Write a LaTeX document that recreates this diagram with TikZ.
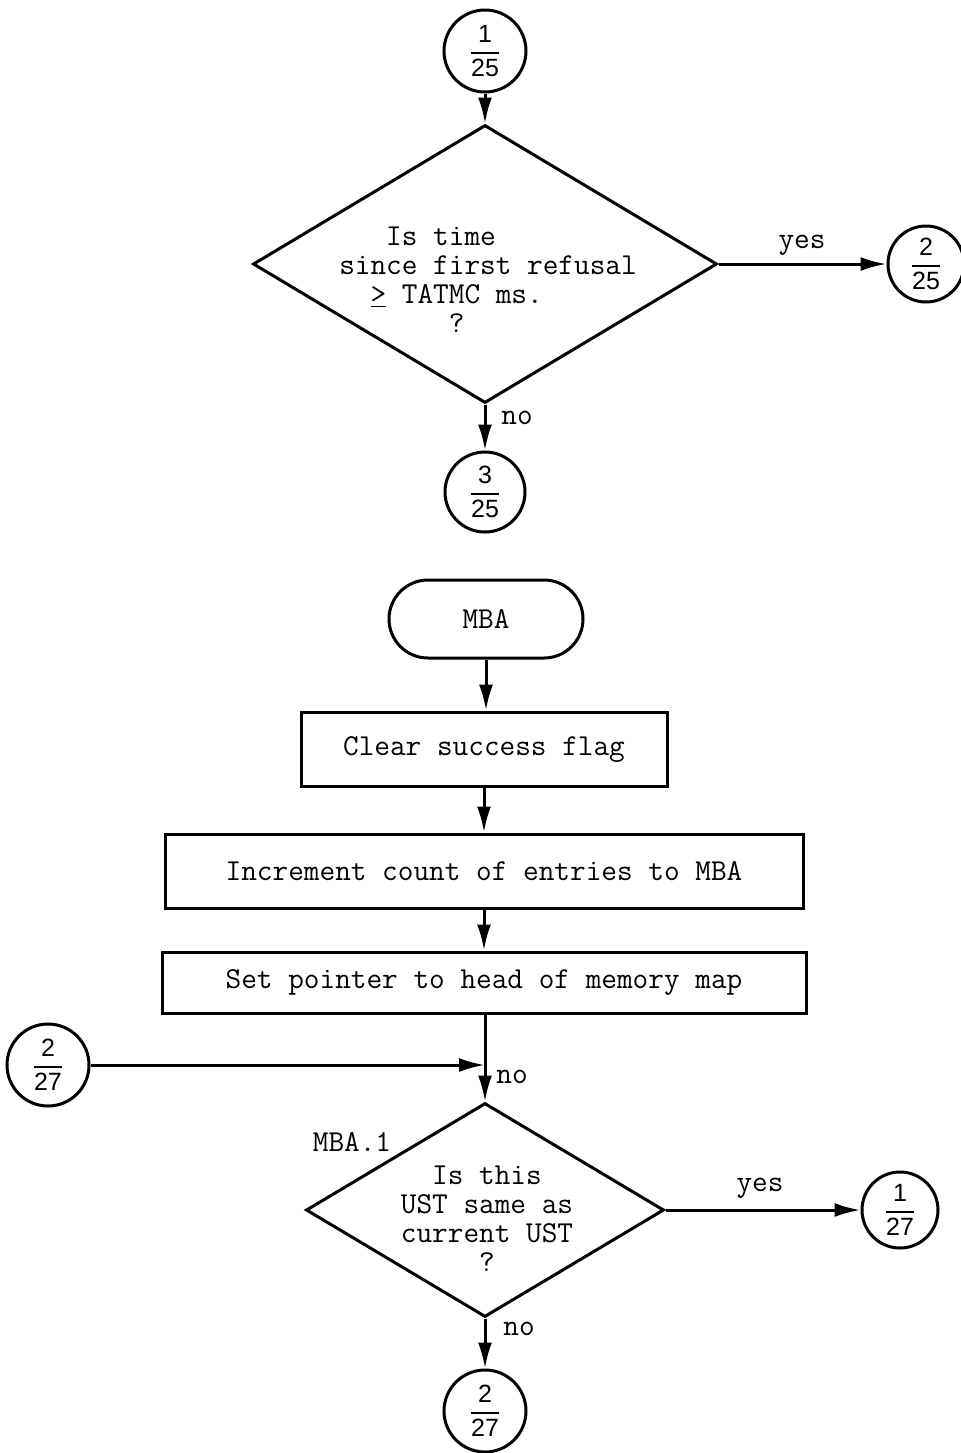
\documentclass[tikz,border=0pt]{standalone}
\usepackage{fontspec}
\setsansfont{Liberation Sans}
\usetikzlibrary{shapes.geometric,arrows.meta}

% page reference inside an off-page connector: number over a rule over page
\newcommand{\pgref}[2]{$\displaystyle{\hbox{#1}\above0.9pt\hbox{#2}}$}

\begin{document}
\begin{tikzpicture}[x=0.5pt,y=-0.5pt,line width=1.5pt,
  every node/.style={font=\ttfamily\fontsize{15.2}{14.5}\selectfont},
  conn/.style={draw,circle,inner sep=0pt,minimum size=#1,
    font=\sffamily\fontsize{12.5}{14}\selectfont},
  conn/.default=41pt,
  procbox/.style={draw,rectangle,inner sep=0pt},
  decision/.style={draw,diamond,inner sep=0pt},
  terminal/.style={draw,rectangle,rounded corners=19.5pt,inner sep=0pt,
    minimum width=97pt,minimum height=39pt},
  lbl/.style={inner sep=0pt},
  flow/.style={-{Latex[length=13pt,width=7pt]}}]

\useasboundingbox (0,0) rectangle (961,1453);

% ---------- refusal timeout test ----------
\node[conn] (c125) at (485,51) {\pgref{1}{25}};
\node[decision,minimum width=232pt,minimum height=139pt] (d1) at (485,264) {};
\node[lbl,align=left] (d1t) at (488,280)
  {\phantom{xxx}Is time\\since first refusal\\\phantom{xx}\underline{>} TATMC ms.\\\phantom{xxxxxxx}?};
\node[conn=38pt] (c225) at (926,264) {\pgref{2}{25}};
\node[lbl] (yes1) at (802,245) {yes};
\node[conn=40pt] (c325) at (485,492) {\pgref{3}{25}};
\node[lbl] (no1) at (517,418) {no};

\draw[flow] (c125) -- (d1.north);
\draw[flow] (d1.east) -- (c225.west);
\draw[flow] (d1.south) -- (c325.north);

% ---------- MBA entry ----------
\node[terminal] (mba) at (486,619) {MBA};
\node[procbox,minimum width=183pt,minimum height=37pt] (b1) at (484,749) {Clear success flag};
\node[procbox,minimum width=319pt,minimum height=37pt] (b2) at (484,871) {Increment count of entries to MBA};
\node[procbox,minimum width=322pt,minimum height=30.5pt] (b3) at (484,982.5) {Set pointer to head of memory map};

\draw[flow] (mba.south) -- (mba.south |- b1.north);
\draw[flow] (b1.south) -- (b2.north);
\draw[flow] (b2.south) -- (b3.north);

% ---------- MBA.1 decision ----------
\node[conn] (c227a) at (48,1065) {\pgref{2}{27}};
\node[decision,minimum width=179pt,minimum height=107pt] (d2) at (485,1210) {};
\node[lbl,align=center] (d2t) at (487,1219) {Is this\\UST same as\\current UST\\?};
\node[lbl] (mba1) at (352,1142) {MBA.1};
\node[lbl] (no2) at (512,1077) {no};
\node[conn=38pt] (c127) at (900,1210) {\pgref{1}{27}};
\node[lbl] (yes2) at (760,1188) {yes};
\node[conn] (c227b) at (485,1411) {\pgref{2}{27}};
\node[lbl] (no3) at (519,1329) {no};

\draw[flow] (b3.south -| d2.north) -- (d2.north);
\draw[flow] (c227a) -- (c227a -| d2.north);
\draw[flow] (d2.east) -- (c127.west);
\draw[flow] (d2.south) -- (c227b.north);

\end{tikzpicture}
\end{document}
